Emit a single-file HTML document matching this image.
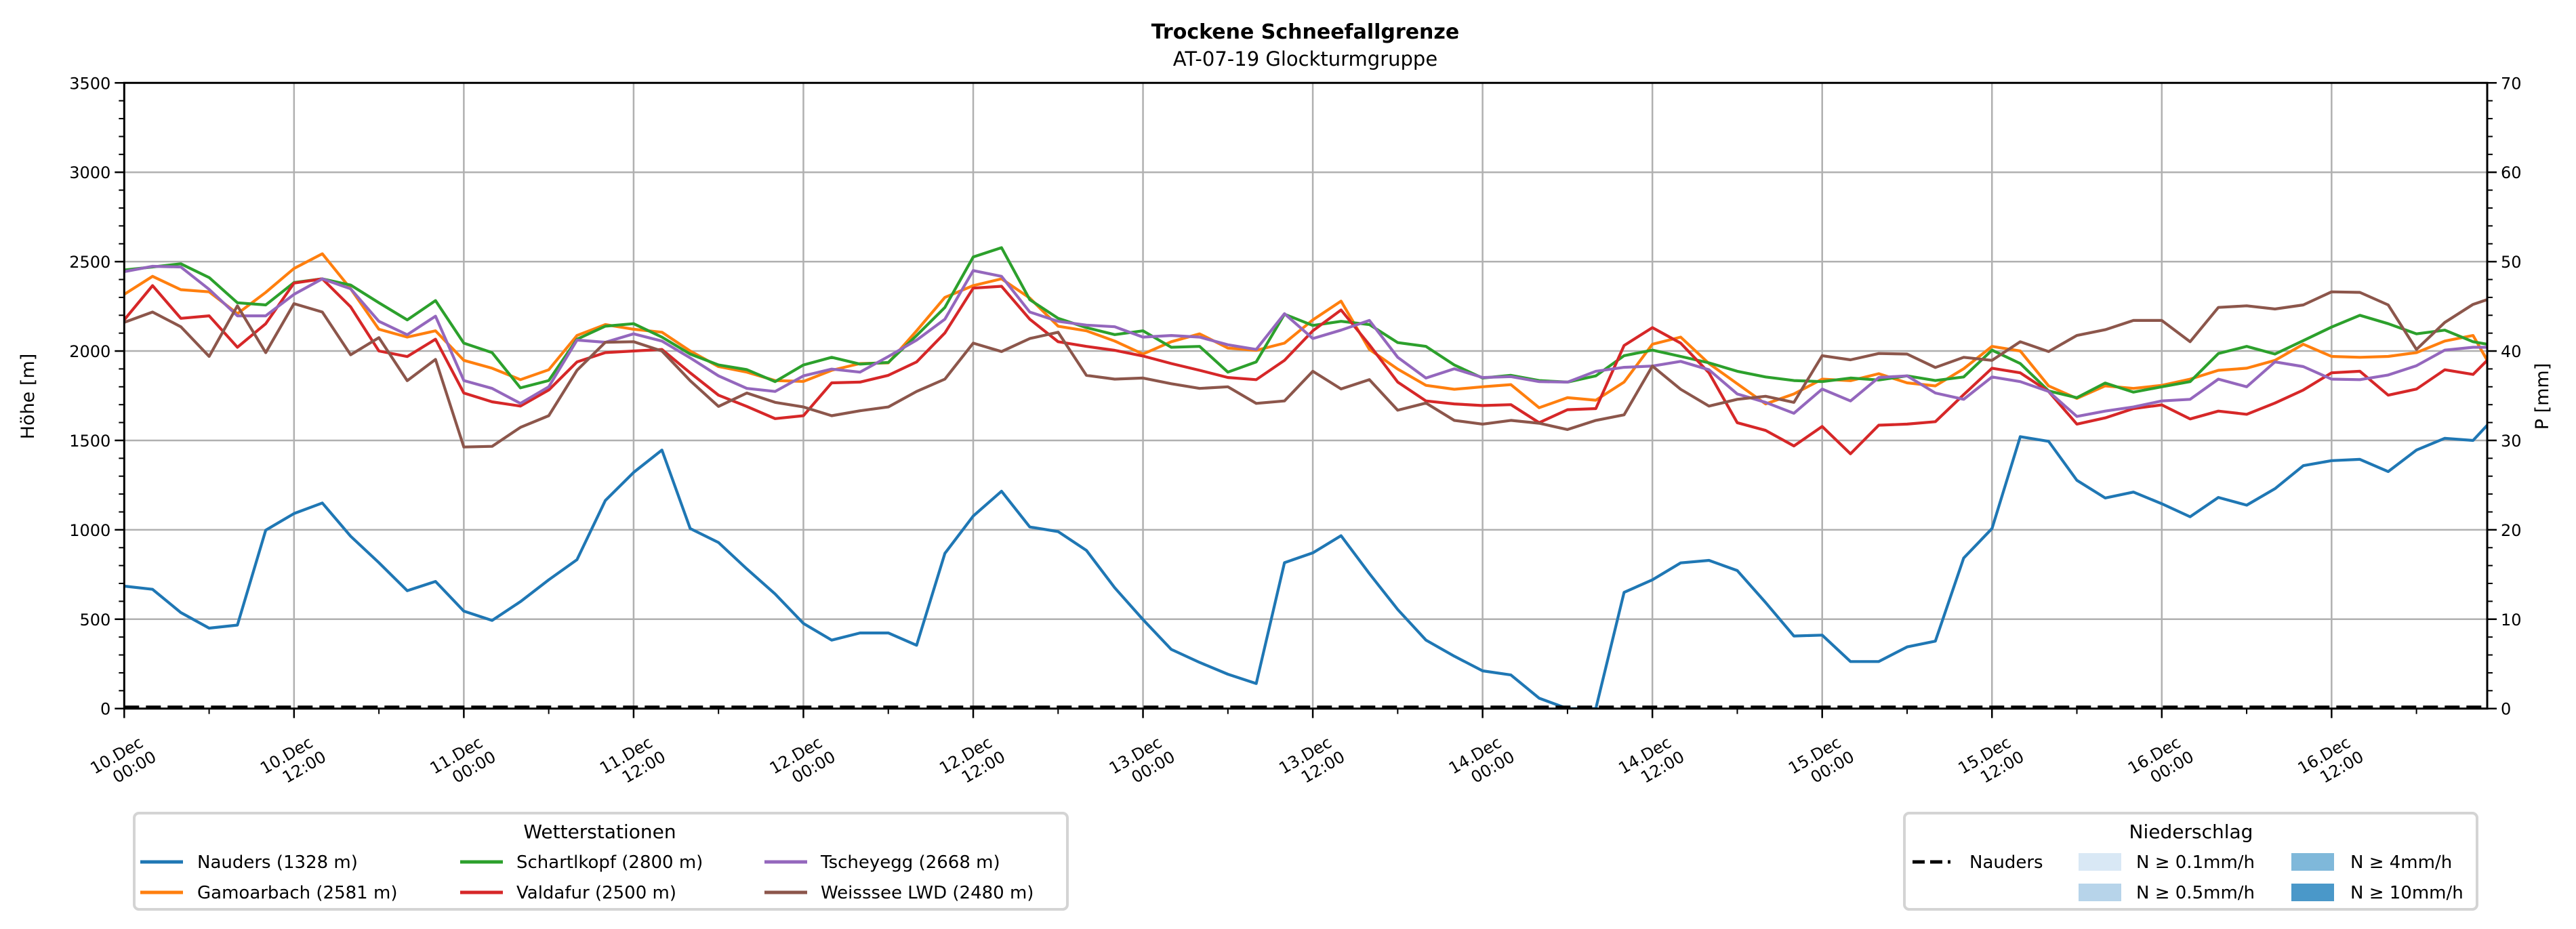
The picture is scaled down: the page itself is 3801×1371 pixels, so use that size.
<!DOCTYPE html>
<html><head><meta charset="utf-8"><style>
html,body{margin:0;padding:0;background:#fff;}
svg{display:block;font-family:"DejaVu Sans","Liberation Sans",sans-serif;}
</style></head><body>
<svg id="chart" width="3801" height="1371" viewBox="0 0 3801 1371" xmlns="http://www.w3.org/2000/svg">
<text x="1926" y="57" text-anchor="middle" font-size="30" font-weight="bold">Trockene Schneefallgrenze</text>
<text x="1926" y="97" text-anchor="middle" font-size="29">AT-07-19 Glockturmgruppe</text>
<g id="grid"></g>
<g id="series"></g>
<g id="axes"></g>
<text transform="translate(50,585) rotate(-90)" text-anchor="middle" font-size="27">Höhe [m]</text>
<text transform="translate(3760,585) rotate(-90)" text-anchor="middle" font-size="27">P [mm]</text>

<g>
<rect x="198" y="1200" width="1377" height="142" rx="7" fill="#fff" stroke="#d4d4d4" stroke-width="4"/>
<text x="885" y="1237" text-anchor="middle" font-size="28">Wetterstationen</text>
<g><line x1="207" y1="1272" x2="270" y2="1272" stroke="#1f77b4" stroke-width="5"/><text x="291" y="1281" font-size="26">Nauders (1328 m)</text></g>
<g><line x1="207" y1="1317" x2="270" y2="1317" stroke="#ff7f0e" stroke-width="5"/><text x="291" y="1326" font-size="26">Gamoarbach (2581 m)</text></g>
<g><line x1="679" y1="1272" x2="742" y2="1272" stroke="#2ca02c" stroke-width="5"/><text x="762" y="1281" font-size="26">Schartlkopf (2800 m)</text></g>
<g><line x1="679" y1="1317" x2="742" y2="1317" stroke="#d62728" stroke-width="5"/><text x="762" y="1326" font-size="26">Valdafur (2500 m)</text></g>
<g><line x1="1128" y1="1272" x2="1191" y2="1272" stroke="#9467bd" stroke-width="5"/><text x="1211" y="1281" font-size="26">Tscheyegg (2668 m)</text></g>
<g><line x1="1128" y1="1317" x2="1191" y2="1317" stroke="#8c564b" stroke-width="5"/><text x="1211" y="1326" font-size="26">Weisssee LWD (2480 m)</text></g>
</g>

<g>
<rect x="2810" y="1200" width="845" height="142" rx="7" fill="#fff" stroke="#d4d4d4" stroke-width="4"/>
<text x="3233" y="1237" text-anchor="middle" font-size="28">Niederschlag</text>
<g><line x1="2822" y1="1272" x2="2878" y2="1272" stroke="#000" stroke-width="5" stroke-dasharray="18,8"/><text x="2906" y="1281" font-size="26">Nauders</text></g>
<g><rect x="3067" y="1259" width="63" height="26" fill="#d9e8f5"/><text x="3152" y="1281" font-size="26">N ≥ 0.1mm/h</text></g>
<g><rect x="3067" y="1304" width="63" height="26" fill="#b7d4ea"/><text x="3152" y="1326" font-size="26">N ≥ 0.5mm/h</text></g>
<g><rect x="3381" y="1259" width="63" height="26" fill="#7fb8da"/><text x="3468" y="1281" font-size="26">N ≥ 4mm/h</text></g>
<g><rect x="3381" y="1304" width="63" height="26" fill="#4a98c9"/><text x="3468" y="1326" font-size="26">N ≥ 10mm/h</text></g>
</g>
</svg>
<script>
const hours = [0,2,4,6,8,10,12,14,16,18,20,22,24,26,28,30,32,34,36,38,40,42,44,46,48,50,52,54,56,58,60,62,64,66,68,70,72,74,76,78,80,82,84,86,88,90,92,94,96,98,100,102,104,106,108,110,112,114,116,118,120,122,124,126,128,130,132,134,136,138,140,142,144,146,148,150,152,154,156,158,160,162,164,166,167];
const nauders = [685,667,537,450,467,998,1091,1150,964,816,659,711,545,493,598,720,833,1164,1321,1446,1007,
 929,781,641,476,383,423,423,354,868,1077,1216,1016,990,885,676,498,331,258,192,140,816,871,
 967,755,554,383,293,211,188,58,0,0,650,720,815,829,772,593,406,411,263,263,
 345,377,842,1007,1521,1495,1277,1178,1211,1146,1073,1181,1138,1230,1359,1387,1394,1326,1446,1512,1500,1585];
const gamoarbach = [2317,2418,2343,2331,2209,2328,2462,2544,2348,2122,2078,2113,1948,1904,1840,1895,2087,2148,2122,2105,2000,
 1913,1882,1835,1830,1892,1930,1934,2113,2300,2366,2404,2296,2139,2113,2056,1983,2052,2096,2017,2004,2044,2174,
 2279,2009,1899,1808,1786,1800,1812,1683,1739,1725,1826,2038,2078,1930,1817,1704,1760,1843,1834,1873,
 1822,1805,1901,2026,2000,1805,1735,1805,1791,1808,1843,1892,1904,1948,2038,1970,1965,1970,1991,2056,2087,1948];
const schartlkopf = [2453,2470,2488,2411,2270,2258,2383,2404,2369,2270,2174,2282,2044,1991,1794,1835,2066,2139,2153,2078,1983,
 1922,1896,1829,1922,1965,1927,1936,2087,2244,2526,2578,2287,2183,2131,2092,2113,2021,2026,1882,1939,2206,2143,
 2166,2148,2047,2026,1922,1849,1864,1835,1826,1861,1974,2005,1970,1934,1887,1855,1835,1829,1849,1838,
 1861,1835,1855,2005,1930,1777,1739,1821,1770,1800,1829,1986,2026,1983,2058,2134,2200,2153,2096,2117,2052,2038];
const tscheyegg = [2444,2474,2470,2345,2197,2197,2317,2404,2348,2166,2091,2195,1835,1791,1707,1800,2061,2049,2096,2056,1962,
 1861,1791,1774,1861,1899,1882,1969,2061,2178,2450,2418,2218,2166,2145,2136,2078,2087,2078,2035,2009,2209,2070,
 2117,2171,1965,1849,1901,1852,1857,1829,1826,1887,1909,1916,1942,1895,1760,1713,1652,1787,1721,1852,
 1861,1765,1730,1855,1829,1774,1634,1664,1687,1721,1730,1843,1800,1939,1913,1843,1840,1866,1918,2005,2021,2021];
const valdafur = [2174,2366,2183,2197,2021,2153,2380,2404,2247,2000,1969,2066,1765,1716,1692,1782,1939,1991,2000,2009,1878,
 1753,1690,1622,1638,1822,1826,1864,1939,2101,2352,2362,2178,2052,2026,2004,1972,1930,1892,1852,1840,1948,2113,
 2230,2035,1826,1721,1704,1695,1700,1599,1672,1678,2031,2131,2044,1878,1599,1556,1469,1578,1425,1585,
 1591,1605,1756,1904,1878,1774,1591,1626,1678,1699,1620,1664,1646,1709,1782,1878,1887,1753,1787,1895,1869,1948];
const weisssee = [2160,2218,2136,1970,2253,1991,2265,2218,1979,2075,1834,1953,1463,1467,1573,1638,1892,2049,2052,2000,1834,
 1690,1765,1713,1687,1638,1666,1687,1774,1843,2044,1997,2070,2105,1864,1843,1849,1817,1791,1800,1707,1721,1887,
 1788,1840,1669,1709,1612,1591,1612,1596,1561,1612,1643,1916,1786,1692,1730,1747,1713,1974,1951,1986,
 1983,1908,1965,1948,2052,1997,2087,2119,2171,2171,2052,2244,2253,2235,2258,2331,2328,2258,2009,2160,2261,2288];
const precipNauders = [0,0];
const precipHours = [0,167];
const yTicks = [0,500,1000,1500,2000,2500,3000,3500];
const y2Ticks = [0,10,20,30,40,50,60,70];
const xTickHours = [0,12,24,36,48,60,72,84,96,108,120,132,144,156];
const xTickLabels = [["10.Dec","00:00"],["10.Dec","12:00"],["11.Dec","00:00"],["11.Dec","12:00"],["12.Dec","00:00"],["12.Dec","12:00"],["13.Dec","00:00"],["13.Dec","12:00"],["14.Dec","00:00"],["14.Dec","12:00"],["15.Dec","00:00"],["15.Dec","12:00"],["16.Dec","00:00"],["16.Dec","12:00"]];

const NS="http://www.w3.org/2000/svg";
const X0=183.3,X1=3670,Y0=1045.7,Y1=122.3;
const xS=h=>X0+(h/167)*(X1-X0);
const yS=v=>Y0-(v/3500)*(Y0-Y1);
const y2S=v=>Y0-(v/70)*(Y0-Y1);
function mk(tag,attrs,parent){const e=document.createElementNS(NS,tag);for(const k in attrs)e.setAttribute(k,attrs[k]);parent.appendChild(e);return e;}
const grid=document.getElementById('grid'),axes=document.getElementById('axes'),ser=document.getElementById('series');

xTickHours.forEach((h,i)=>{
  const l=mk('line',{x1:xS(h),x2:xS(h),y1:Y1,y2:Y0,stroke:'#b0b0b0','stroke-width':2.5},grid);
  
  
  const t=mk('line',{x1:xS(h),x2:xS(h),y1:Y0,y2:Y0+14,stroke:'#000','stroke-width':2.5},axes);
  
  
  const g=mk('g',{transform:`translate(${xS(h)-4},1127) rotate(-30)`,'font-size':24,'text-anchor':'middle'},axes);
  
  
  const a=mk('text',{x:0,y:-6},g);a.textContent=xTickLabels[i][0];
  const b=mk('text',{x:14,y:22},g);b.textContent=xTickLabels[i][1];
});
for(let h=6;h<167;h+=12){
  const t=mk('line',{x1:xS(h),x2:xS(h),y1:Y0,y2:Y0+8,stroke:'#000','stroke-width':2},axes);
  
  
}
yTicks.forEach(v=>{
  const l=mk('line',{x1:X0,x2:X1,y1:yS(v),y2:yS(v),stroke:'#b0b0b0','stroke-width':2.5},grid);
  
  
  const t=mk('line',{x1:X0-14,x2:X0,y1:yS(v),y2:yS(v),stroke:'#000','stroke-width':2.5},axes);
  
  
  const tx=mk('text',{x:X0-20,y:yS(v)+9,'font-size':24,'text-anchor':'end'},axes);
  
  
  tx.textContent=v;
});
y2Ticks.forEach(v=>{
  const t=mk('line',{x1:X1,x2:X1+14,y1:y2S(v),y2:y2S(v),stroke:'#000','stroke-width':2.5},axes);
  
  
  const tx=mk('text',{x:X1+20,y:y2S(v)+9,'font-size':24,'text-anchor':'start'},axes);
  
  
  tx.textContent=v;
});
for(let v=100;v<3500;v+=100){ if(v%500===0)continue;
  const t=mk('line',{x1:X0-8,x2:X0,y1:yS(v),y2:yS(v),stroke:'#000','stroke-width':2},axes);
  
  
  const t2=mk('line',{x1:X1,x2:X1+8,y1:yS(v),y2:yS(v),stroke:'#000','stroke-width':2},axes);
  
  
}
const series=[['nauders',nauders,'#1f77b4'],['gamoarbach',gamoarbach,'#ff7f0e'],['schartlkopf',schartlkopf,'#2ca02c'],['valdafur',valdafur,'#d62728'],['tscheyegg',tscheyegg,'#9467bd'],['weisssee',weisssee,'#8c564b']];
mk('clipPath',{id:'clip'},ser).appendChild(Object.assign(document.createElementNS(NS,'rect'),{}));
const cr=ser.querySelector('clipPath rect');cr.setAttribute('x',X0);cr.setAttribute('y',Y1);cr.setAttribute('width',X1-X0);cr.setAttribute('height',Y0-Y1);
series.forEach(([n,d,c])=>{
  const m=Math.min(d.length,hours.length);
  let p='';for(let i=0;i<m;i++)p+=(i?'L':'M')+xS(hours[i]).toFixed(1)+','+yS(d[i]).toFixed(1);
  const pa=mk('path',{d:p,fill:'none',stroke:c,'stroke-width':4.2,'stroke-linejoin':'round','clip-path':'url(#clip)'},ser);
  
  
});
let pp='';precipHours.forEach((h,i)=>{pp+=(i?'L':'M')+xS(h)+','+(y2S(precipNauders[i])-2);});
const pl=mk('path',{d:pp,fill:'none',stroke:'#000','stroke-width':5,'stroke-dasharray':'22,10'},ser);


const fr=mk('rect',{x:X0,y:Y1,width:X1-X0,height:Y0-Y1,fill:'none',stroke:'#000','stroke-width':3},axes);


</script>
</body></html>
